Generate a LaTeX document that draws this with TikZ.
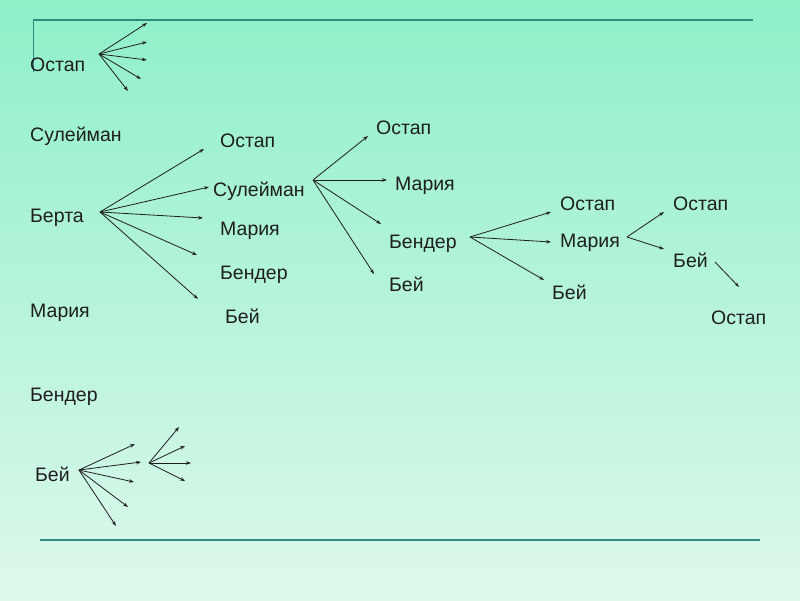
\documentclass[tikz,border=0pt]{standalone}
\usepackage{fontspec}
\setmainfont{Liberation Sans}
\usetikzlibrary{arrows.meta}
\definecolor{bgtop}{RGB}{142,240,200}
\definecolor{bgbot}{RGB}{222,248,236}
\definecolor{rulecol}{RGB}{46,139,128}
\definecolor{inkcol}{RGB}{30,30,30}
\begin{document}
\begin{tikzpicture}[
  x=1pt, y=-1pt,
  lbl/.style={anchor=west, inner sep=0pt, text height=14pt, text depth=0pt,
    font=\fontsize{19.5}{22}\selectfont, text=inkcol},
  arr/.style={draw=inkcol, line width=0.8pt, -{Stealth[length=5pt,width=3.5pt]}},
  rulebar/.style={draw=rulecol, line width=2pt}
]
\useasboundingbox (0,0) rectangle (800,600);
\shade[top color=bgtop, bottom color=bgbot] (0,0) rectangle (800,600);

% frame lines
\draw[draw=rulecol, line width=1pt] (33,72) -- (33,20);
\draw[rulebar] (33,20) -- (753,20);
\draw[rulebar] (40,540) -- (760,540);

% left column
\node[lbl] (ost1) at (30,64.5) {Остап};
\node[lbl] (sul1) at (30,134) {Сулейман};
\node[lbl] (ber1) at (30,215) {Берта};
\node[lbl] (mar1) at (30,310) {Мария};
\node[lbl] (ben1) at (30,394) {Бендер};
\node[lbl] (bei1) at (35,474) {Бей};

% Берта -> ...
\node[lbl] (ost2) at (220,140) {Остап};
\node[lbl] (sul2) at (213,189) {Сулейман};
\node[lbl] (mar2) at (220,228) {Мария};
\node[lbl] (ben2) at (220,272) {Бендер};
\node[lbl] (bei2) at (225,316) {Бей};

% Сулейман -> ...
\node[lbl] (ost3) at (376,127) {Остап};
\node[lbl] (mar3) at (395,183) {Мария};
\node[lbl] (ben3) at (389,241) {Бендер};
\node[lbl] (bei3) at (389,284) {Бей};

% Бендер -> ...
\node[lbl] (ost4) at (560,203) {Остап};
\node[lbl] (mar4) at (560,240) {Мария};
\node[lbl] (bei4) at (552,292) {Бей};

% Мария -> ...
\node[lbl] (ost5) at (673,203) {Остап};
\node[lbl] (bei5) at (673,260) {Бей};
\node[lbl] (ost6) at (711,317) {Остап};

% fans
\coordinate (ostO) at (99,54);
\foreach \i/\x/\y in {1/147/23,2/147/42,3/147/60,4/141/79,5/128/91}
  {\coordinate (ostT\i) at (\x,\y); \draw[arr] (ostO) -- (ostT\i);}

\coordinate (beiO) at (79,470);
\foreach \i/\x/\y in {1/135/444,2/141/462,3/134/482,4/128/507,5/116/526}
  {\coordinate (beiT\i) at (\x,\y); \draw[arr] (beiO) -- (beiT\i);}

\coordinate (beiQ) at (149,463);
\foreach \i/\x/\y in {1/179/427,2/185/446,3/191/463,4/185/481}
  {\coordinate (beiU\i) at (\x,\y); \draw[arr] (beiQ) -- (beiU\i);}

\coordinate (berO) at (100,212);
\foreach \i/\x/\y in {1/204/149,2/209/187,3/203/218,4/197/255,5/198/299}
  {\coordinate (berT\i) at (\x,\y); \draw[arr] (berO) -- (berT\i);}

\coordinate (sulO) at (313,180);
\foreach \i/\x/\y in {1/368/136,2/387/180,3/381/224,4/374/274}
  {\coordinate (sulT\i) at (\x,\y); \draw[arr] (sulO) -- (sulT\i);}

\coordinate (benO) at (470,237);
\foreach \i/\x/\y in {1/551/212,2/551/242,3/544/280}
  {\coordinate (benT\i) at (\x,\y); \draw[arr] (benO) -- (benT\i);}

\coordinate (marO) at (627,237);
\foreach \i/\x/\y in {1/664/212,2/664/249}
  {\coordinate (marT\i) at (\x,\y); \draw[arr] (marO) -- (marT\i);}

\coordinate (bei5O) at (715,262);
\coordinate (bei5T) at (739,287);
\draw[arr] (bei5O) -- (bei5T);
\end{tikzpicture}
\end{document}
